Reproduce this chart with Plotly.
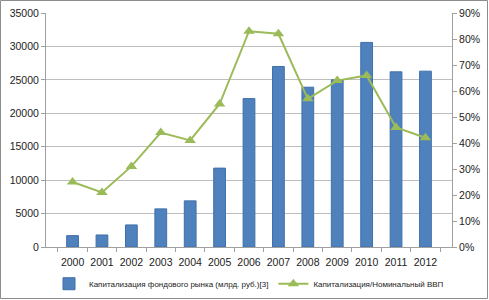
import plotly.graph_objects as go

years = ["2000", "2001", "2002", "2003", "2004", "2005", "2006",
         "2007", "2008", "2009", "2010", "2011", "2012"]
cap_bln_rub = [1700, 1800, 3300, 5700, 6900, 11800, 22200,
               27000, 23900, 25000, 30600, 26200, 26300]
cap_to_gdp = [0.25, 0.21, 0.31, 0.44, 0.41, 0.55, 0.83,
              0.82, 0.57, 0.64, 0.66, 0.46, 0.42]

bar_name = "Капитализация фондового рынка (млрд. руб.)[3]"
line_name = "Капитализация/Номинальный ВВП"

W, H = 489, 300
ml, mr, mt, mb = 46, 37, 13, 53
pw, ph = W - ml - mr, H - mt - mb

fig = go.Figure()
fig.add_trace(go.Bar(
    x=years, y=cap_bln_rub, name=bar_name,
    marker=dict(color="#4F81BD", line=dict(color="#3F70AA", width=1)),
    width=0.4,
))
fig.add_trace(go.Scatter(
    x=years, y=cap_to_gdp, name=line_name, yaxis="y2",
    mode="lines+markers",
    line=dict(color="#9BBB59", width=2),
    marker=dict(symbol="triangle-up", size=10, color="#9BBB59"),
))

font = dict(family="Liberation Sans, Arial, sans-serif", size=10, color="#222")
fig.update_layout(
    width=W, height=H,
    margin=dict(l=ml, r=mr, t=mt, b=mb, autoexpand=False),
    paper_bgcolor="white", plot_bgcolor="white",
    font=font,
    bargap=0.6,
    showlegend=True,
    legend=dict(orientation="h", x=0.5, xanchor="center", y=-0.095, yanchor="top",
                font=dict(size=8, family="Liberation Sans, Arial, sans-serif"),
                itemwidth=30, tracegroupgap=0),
    xaxis=dict(
        type="category", showgrid=False, showline=True, linecolor="#A0A0A0",
        ticks="outside", tickson="boundaries", ticklen=4, tickcolor="#A0A0A0",
        tickfont=dict(size=10.5), tickangle=0, automargin=False,
        ticklabelstandoff=5,
    ),
    yaxis=dict(
        range=[0, 35000], dtick=5000, showgrid=True, gridcolor="#BEBEBE",
        showline=True, linecolor="#A0A0A0", ticks="outside", ticklen=4,
        tickcolor="#A0A0A0", zeroline=False, tickfont=dict(size=10.5),
        tickformat="d", automargin=False,
    ),
    yaxis2=dict(
        overlaying="y", side="right", range=[0, 0.9], dtick=0.1,
        tickformat=".0%", showgrid=False, showline=True, linecolor="#A0A0A0",
        ticks="outside", ticklen=4, tickcolor="#A0A0A0", zeroline=False,
        tickfont=dict(size=10.5), automargin=False,
    ),
    shapes=[dict(
        type="rect", xref="paper", yref="paper",
        x0=-(ml - 0.5) / pw, x1=1 + (mr - 1.5) / pw,
        y0=-(mb - 1.5) / ph, y1=1 + (mt - 0.5) / ph,
        line=dict(color="#8C8C8C", width=1), fillcolor="rgba(0,0,0,0)",
        layer="below",
    )],
)

fig.write_html("out.html", config={"displayModeBar": False},
               post_script="document.body.style.margin='0px';document.body.style.overflow='hidden';")
